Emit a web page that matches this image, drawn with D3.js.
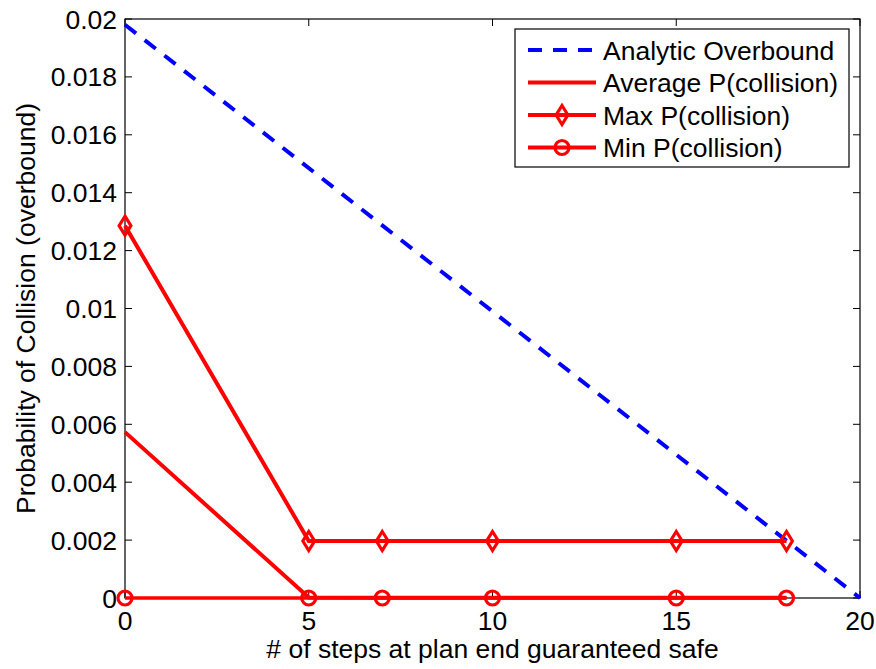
<!DOCTYPE html>
<html lang="en">
<head>
<meta charset="utf-8">
<script src="https://cdn.jsdelivr.net/npm/d3@7"></script>
<style>
  body { margin: 0; background: #fff; }
  text { font-family: "Liberation Sans", Arial, sans-serif; fill: #000; }
</style>
</head>
<body>
<div id="chart"></div>
<script>
// steps at plan end guaranteed safe
const steps = [0, 5, 7, 10, 15, 18];
const boundSteps = [0, 20];
const analyticBound = [0.0198, 0];
const avgP = [0.00573, 0.00002, 0.00001, 0.00001, 0.00001, 0.00001];
const maxP = [0.01286, 0.00197, 0.00197, 0.00197, 0.00197, 0.00197];
const minP = [0, 0, 0, 0, 0, 0];
const xTicks = [0, 5, 10, 15, 20];
const yTicks = [0, 0.002, 0.004, 0.006, 0.008, 0.01, 0.012, 0.014, 0.016, 0.018, 0.02];
const legendNames = ["Analytic Overbound", "Average P(collision)", "Max P(collision)", "Min P(collision)"];

const W = 876, H = 669;
const margin = {top: 19, right: 16, bottom: 71, left: 125};
const width = W - margin.left - margin.right,
      height = H - margin.top - margin.bottom;
const fs = "26.5px";

const svg = d3.select("#chart").append("svg")
    .attr("width", W).attr("height", H);
const g = svg.append("g")
    .attr("transform", `translate(${margin.left},${margin.top})`);

const x = d3.scaleLinear().domain([0, 20]).range([0, width]);
const y = d3.scaleLinear().domain([0, 0.02]).range([height, 0]);

// frame
g.append("rect")
  .attr("width", width).attr("height", height)
  .attr("fill", "none").attr("stroke", "#000").attr("stroke-width", 1.2);

const tickLen = 7;
// x ticks, bottom and top
xTicks.forEach(t => {
  g.append("line").attr("x1", x(t)).attr("x2", x(t)).attr("y1", height).attr("y2", height - tickLen)
    .attr("stroke", "#000");
  g.append("line").attr("x1", x(t)).attr("x2", x(t)).attr("y1", 0).attr("y2", tickLen)
    .attr("stroke", "#000");
  g.append("text").attr("x", x(t)).attr("y", height + 32)
    .attr("text-anchor", "middle").style("font-size", fs).text(t);
});
// y ticks, left and right
yTicks.forEach(t => {
  g.append("line").attr("x1", 0).attr("x2", tickLen).attr("y1", y(t)).attr("y2", y(t))
    .attr("stroke", "#000");
  g.append("line").attr("x1", width).attr("x2", width - tickLen).attr("y1", y(t)).attr("y2", y(t))
    .attr("stroke", "#000");
  g.append("text").attr("x", -8).attr("y", y(t)).attr("dy", "0.36em")
    .attr("text-anchor", "end").style("font-size", fs).text(d3.format("")(t));
});

// axis titles
svg.append("text").attr("x", margin.left + width / 2).attr("y", 658)
  .attr("text-anchor", "middle").style("font-size", fs)
  .text("# of steps at plan end guaranteed safe");
svg.append("text")
  .attr("transform", `translate(35,${margin.top + height / 2}) rotate(-90)`)
  .attr("text-anchor", "middle").style("font-size", fs)
  .text("Probability of Collision (overbound)");

const line = d3.line().x(d => x(d[0])).y(d => y(d[1]));
const red = "#ff0000";

g.append("path").datum(boundSteps.map((s, i) => [s, analyticBound[i]]))
  .attr("d", line).attr("fill", "none").attr("stroke", "#0000ff")
  .attr("stroke-width", 4).attr("stroke-dasharray", "14,11");

g.append("path").datum(steps.map((s, i) => [s, avgP[i]]))
  .attr("d", line).attr("fill", "none").attr("stroke", red).attr("stroke-width", 4);

g.append("path").datum(steps.map((s, i) => [s, maxP[i]]))
  .attr("d", line).attr("fill", "none").attr("stroke", red).attr("stroke-width", 4);

g.append("path").datum(steps.map((s, i) => [s, minP[i]]))
  .attr("d", line).attr("fill", "none").attr("stroke", red).attr("stroke-width", 3.5);

const diamond = (cx, cy, r) => `M${cx},${cy - r}L${cx + r * 0.62},${cy}L${cx},${cy + r}L${cx - r * 0.62},${cy}Z`;

g.selectAll(".dmark").data(steps.map((s, i) => [s, maxP[i]])).enter()
  .append("path").attr("class", "dmark")
  .attr("d", d => diamond(x(d[0]), y(d[1]), 9.5))
  .attr("fill", "none").attr("stroke", red).attr("stroke-width", 3.2);

g.selectAll(".cmark").data(steps.map((s, i) => [s, minP[i]])).enter()
  .append("circle").attr("class", "cmark")
  .attr("cx", d => x(d[0])).attr("cy", d => y(d[1])).attr("r", 7)
  .attr("fill", "none").attr("stroke", red).attr("stroke-width", 3.2);

// legend
const lg = svg.append("g").attr("transform", "translate(515,29)");
lg.append("rect").attr("width", 334).attr("height", 138)
  .attr("fill", "#fff").attr("stroke", "#000").attr("stroke-width", 1.2);
legendNames.forEach((name, i) => {
  const ly = 21 + i * 32.5;
  const l = lg.append("line").attr("x1", 13).attr("x2", 81).attr("y1", ly).attr("y2", ly)
    .attr("stroke-width", 4);
  if (i === 0) l.attr("stroke", "#0000ff").attr("stroke-dasharray", "14,11");
  else l.attr("stroke", red);
  if (i === 2) lg.append("path").attr("d", diamond(47, ly, 9.5))
    .attr("fill", "none").attr("stroke", red).attr("stroke-width", 3.2);
  if (i === 3) lg.append("circle").attr("cx", 47).attr("cy", ly).attr("r", 7)
    .attr("fill", "none").attr("stroke", red).attr("stroke-width", 3.2);
  lg.append("text").attr("x", 88).attr("y", ly).attr("dy", "0.36em")
    .style("font-size", fs).text(name);
});
</script>
</body>
</html>
